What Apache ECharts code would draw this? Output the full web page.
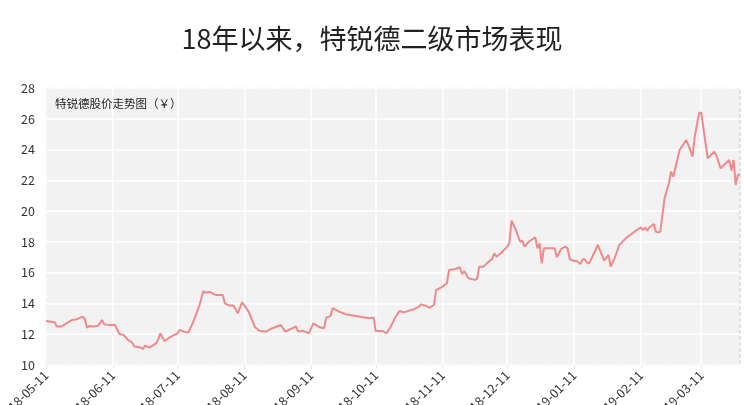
<!DOCTYPE html>
<html>
<head>
<meta charset="utf-8">
<script src="https://cdn.jsdelivr.net/npm/echarts@6/dist/echarts.min.js"></script>
<style>
html,body{margin:0;padding:0;background:#fff;}
#chart{width:744px;height:405px;}
</style>
</head>
<body>
<div id="chart"></div>
<script>
// Axis range (calendar days shown on the category axis)
var startDate = '2018-05-11';
var endDate = '2019-03-29';

var tradeDates = [
'2018-05-11','2018-05-15','2018-05-16','2018-05-18','2018-05-23','2018-05-25','2018-05-28','2018-05-29','2018-05-30','2018-05-31',
'2018-06-02','2018-06-04','2018-06-06','2018-06-07','2018-06-10','2018-06-12','2018-06-14','2018-06-16','2018-06-18','2018-06-20',
'2018-06-21','2018-06-24','2018-06-25','2018-06-26','2018-06-28','2018-07-01','2018-07-02','2018-07-03','2018-07-05','2018-07-08',
'2018-07-11','2018-07-12','2018-07-14','2018-07-16','2018-07-18','2018-07-21','2018-07-23','2018-07-24','2018-07-26','2018-07-28',
'2018-07-29','2018-08-01','2018-08-02','2018-08-04','2018-08-06','2018-08-08','2018-08-10','2018-08-13','2018-08-16','2018-08-18',
'2018-08-21','2018-08-24','2018-08-28','2018-08-30','2018-09-04','2018-09-05','2018-09-07','2018-09-10','2018-09-12','2018-09-15',
'2018-09-17','2018-09-18','2018-09-20','2018-09-21','2018-09-24','2018-09-27','2018-10-08','2018-10-10','2018-10-11','2018-10-14',
'2018-10-16','2018-10-18','2018-10-20','2018-10-22','2018-10-24','2018-10-29','2018-10-31','2018-11-01','2018-11-03','2018-11-05',
'2018-11-07','2018-11-08','2018-11-11','2018-11-13','2018-11-14','2018-11-17','2018-11-19','2018-11-20','2018-11-21','2018-11-23',
'2018-11-26','2018-11-27','2018-11-28','2018-11-30','2018-12-02','2018-12-04','2018-12-05','2018-12-06','2018-12-08','2018-12-11',
'2018-12-12','2018-12-13','2018-12-15','2018-12-17','2018-12-18','2018-12-19','2018-12-21','2018-12-24','2018-12-25','2018-12-26',
'2018-12-27','2018-12-28','2019-01-02','2019-01-03','2019-01-05','2019-01-07','2019-01-08','2019-01-09','2019-01-11','2019-01-12',
'2019-01-14','2019-01-15','2019-01-16','2019-01-17','2019-01-18','2019-01-21','2019-01-22','2019-01-23','2019-01-25','2019-01-27',
'2019-01-28','2019-01-30','2019-02-01','2019-02-04','2019-02-08','2019-02-11','2019-02-12','2019-02-13','2019-02-14','2019-02-15',
'2019-02-17','2019-02-18','2019-02-19','2019-02-20','2019-02-22','2019-02-24','2019-02-25','2019-02-26','2019-03-01','2019-03-04',
'2019-03-05','2019-03-07','2019-03-08','2019-03-10','2019-03-11','2019-03-14','2019-03-17','2019-03-18','2019-03-20','2019-03-24',
'2019-03-25','2019-03-26','2019-03-27','2019-03-28','2019-03-29'
];
var prices = [
12.86,12.78,12.50,12.50,12.92,12.96,13.14,13.00,12.43,12.53,
12.50,12.53,12.92,12.64,12.60,12.60,12.02,11.95,11.63,11.45,
11.20,11.13,11.04,11.26,11.13,11.41,11.63,12.06,11.56,11.84,
12.06,12.28,12.17,12.10,12.71,13.79,14.81,14.70,14.76,14.59,
14.55,14.55,14.00,13.86,13.86,13.36,14.08,13.47,12.45,12.23,
12.17,12.39,12.60,12.17,12.50,12.17,12.23,12.06,12.71,12.45,
12.39,13.08,13.19,13.69,13.47,13.30,13.04,13.08,12.21,12.21,
12.06,12.50,13.08,13.51,13.42,13.64,13.79,13.94,13.86,13.73,
13.90,14.87,15.09,15.31,16.17,16.24,16.35,15.91,16.11,15.64,
15.53,15.60,16.39,16.39,16.67,16.89,17.26,17.04,17.26,17.69,
17.95,19.38,18.77,18.01,18.08,17.69,18.01,18.30,17.58,17.90,
16.60,17.58,17.58,17.00,17.54,17.69,17.58,16.87,16.76,16.78,
16.56,16.87,16.87,16.65,16.60,17.47,17.80,17.47,16.78,17.15,
16.39,17.00,17.80,18.23,18.66,18.95,18.77,18.93,18.73,18.95,
19.16,18.66,18.62,18.66,20.83,21.80,22.56,22.24,23.97,24.62,
24.30,23.54,24.84,26.36,26.42,23.43,23.86,23.65,22.78,23.32,
22.63,23.32,21.70,22.35,22.39
];
var yTicks = {min: 10, max: 28, step: 2};
var titleText = '18年以来，特锐德二级市场表现';
var subText = '特锐德股价走势图（￥）';

// Build calendar-day categories
function pad(n){return n<10?'0'+n:''+n;}
var allDates = [];
(function(){
  var p = startDate.split('-'), q = endDate.split('-');
  var d = Date.UTC(+p[0], +p[1]-1, +p[2]);
  var e = Date.UTC(+q[0], +q[1]-1, +q[2]);
  while (d <= e) {
    var dt = new Date(d);
    allDates.push(dt.getUTCFullYear()+'-'+pad(dt.getUTCMonth()+1)+'-'+pad(dt.getUTCDate()));
    d += 86400000;
  }
})();
var priceMap = {};
tradeDates.forEach(function(t,i){priceMap[t]=prices[i];});
var seriesData = allDates.map(function(t){return priceMap.hasOwnProperty(t)?priceMap[t]:null;});
function on11(i, v){ return /-11$/.test(v); }

var chart = echarts.init(document.getElementById('chart'), null, {renderer:'canvas'});
var font = '"Noto Sans CJK SC","Noto Sans",sans-serif';
chart.setOption({
  animation: false,
  backgroundColor: '#fff',
  textStyle: {fontFamily: font},
  title: [{
    text: titleText,
    left: 'center',
    top: 20,
    textStyle: {fontSize: 27, fontWeight: 'normal', color: '#222', fontFamily: font}
  },{
    text: subText,
    left: 50,
    top: 93,
    textStyle: {fontSize: 11.5, fontWeight: 'normal', color: '#222', fontFamily: font}
  }],
  grid: {
    left: 46, right: 4, top: 88, bottom: 40,
    containLabel: false,
    outerBoundsMode: 'none',
    show: true,
    backgroundColor: '#f2f2f2',
    borderColor: '#cccccc',
    borderWidth: 1,
    borderType: 'dashed'
  },
  xAxis: {
    type: 'category',
    data: allDates,
    boundaryGap: false,
    axisLine: {show: false},
    axisTick: {show: true, interval: on11, length: 4, lineStyle: {color: '#e6e6e6'}},
    axisLabel: {interval: on11, rotate: 45, fontSize: 12.5, color: '#333', margin: 8, fontFamily: font},
    splitLine: {show: true, interval: on11, lineStyle: {color: '#ffffff', width: 1.5}}
  },
  yAxis: {
    type: 'value',
    min: yTicks.min, max: yTicks.max, interval: yTicks.step,
    axisLine: {show: false},
    axisTick: {show: false},
    axisLabel: {fontSize: 12.5, color: '#333', margin: 11, fontFamily: font},
    splitLine: {show: true, lineStyle: {color: '#ffffff', width: 1.5}}
  },
  series: [{
    type: 'line',
    data: seriesData,
    connectNulls: true,
    showSymbol: false,
    symbol: 'none',
    lineStyle: {color: '#f08a8a', width: 2},
    itemStyle: {color: '#f08a8a'}
  }]
});
</script>
</body>
</html>
